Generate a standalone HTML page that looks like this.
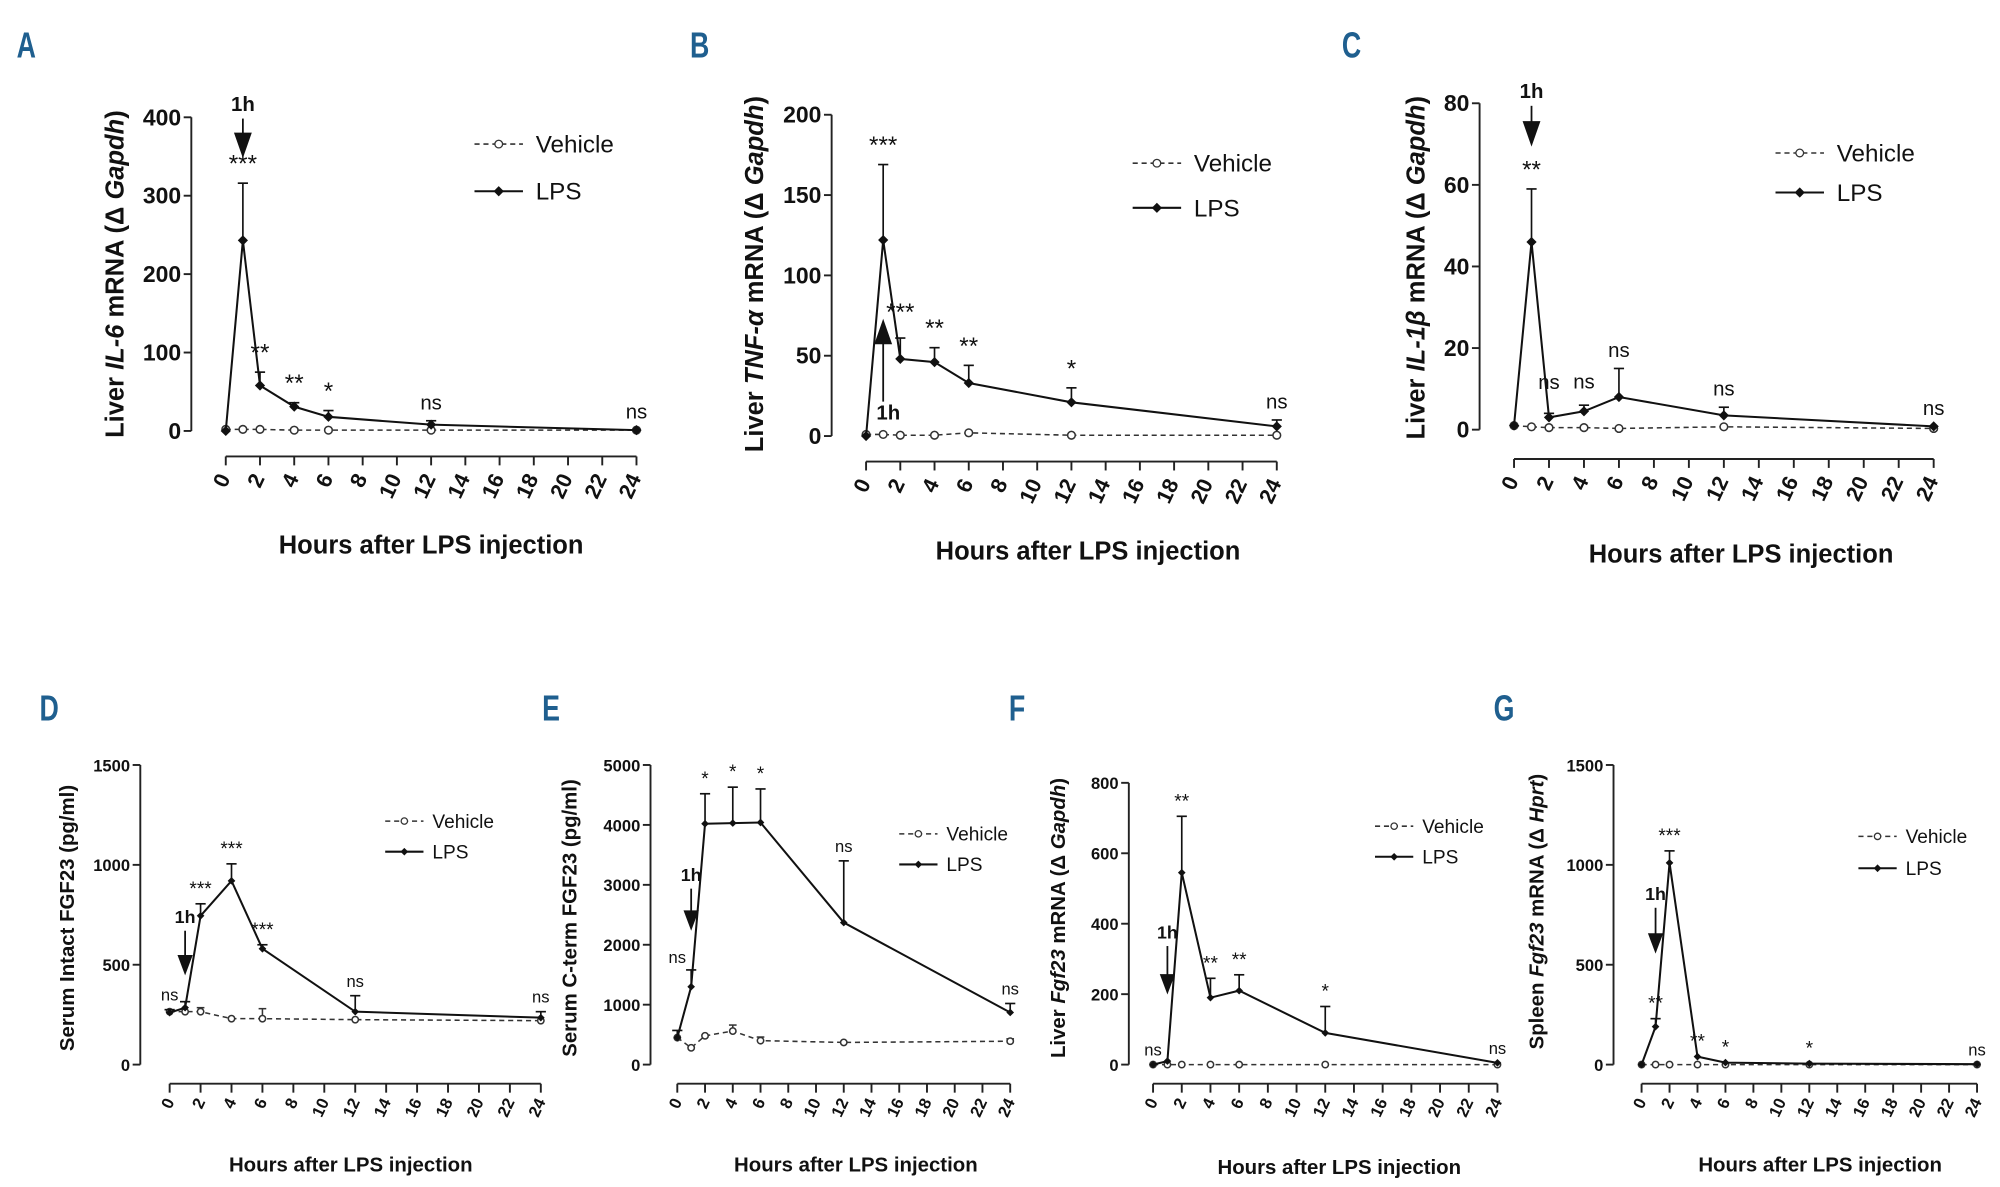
<!DOCTYPE html>
<html><head><meta charset="utf-8"><style>
html,body{margin:0;padding:0;background:#fff;}
svg{display:block;}
text{font-family:"Liberation Sans",sans-serif;fill:#111;}
</style></head><body>
<svg id="fig" width="2000" height="1187" viewBox="0 0 1568 931" preserveAspectRatio="none" xmlns="http://www.w3.org/2000/svg"></svg>
<script>
const hours=[0,1,2,4,6,12,24];
const xTicks=[0,2,4,6,8,10,12,14,16,18,20,22,24];
// Panel A
const aLps=[0,243,58,31,18,8,1];
const aLpsErr=[0,73,17,5,8,5,0];
const aVeh=[2,2,2,1,1,1,1];
const aYTicks=[0,100,200,300,400];
const aAnnX=[1,2,4,6,12,24];
const aAnn=["***","**","**","*","ns","ns"];
// Panel B
const bLps=[0,122,48,46,33,21,6];
const bLpsErr=[0,47,13,9,11,9,4];
const bVeh=[1,1,0.5,0.5,2,0.5,0.5];
const bYTicks=[0,50,100,150,200];
const bAnnX=[1,2,4,6,12,24];
const bAnn=["***","***","**","**","*","ns"];
// Panel C
const cLps=[1,46,3,4.5,8,3.5,0.8];
const cLpsErr=[0,13,1,1.5,7,2,0];
const cVeh=[1,0.7,0.5,0.5,0.3,0.7,0.3];
const cYTicks=[0,20,40,60,80];
const cAnnX=[1,2,4,6,12,24];
const cAnn=["**","ns","ns","ns","ns","ns"];
// Panel D
const dLps=[260,285,745,920,580,265,235];
const dLpsErr=[15,30,60,85,20,80,30];
const dVeh=[265,265,265,230,230,225,220];
const dVehErr=[0,0,20,0,50,0,0];
const dYTicks=[0,500,1000,1500];
const dAnnX=[0,2,4,6,12,24];
const dAnn=["ns","***","***","***","ns","ns"];
// Panel E
const eLps=[450,1300,4020,4030,4040,2370,870];
const eLpsErr=[120,280,500,600,560,1030,150];
const eVeh=[450,280,480,560,400,370,390];
const eVehErr=[0,0,0,100,60,0,40];
const eYTicks=[0,1000,2000,3000,4000,5000];
const eAnnX=[0,2,4,6,12,24];
const eAnn=["ns","*","*","*","ns","ns"];
// Panel F
const fLps=[0,10,545,190,210,90,5];
const fLpsErr=[0,0,160,55,45,75,0];
const fVeh=[0,0,0,0,0,0,0];
const fYTicks=[0,200,400,600,800];
const fAnnX=[0,2,4,6,12,24];
const fAnn=["ns","**","**","**","*","ns"];
// Panel G
const gLps=[0,190,1010,40,10,5,2];
const gLpsErr=[0,40,60,0,0,0,0];
const gVeh=[0,0,0,0,0,0,0];
const gYTicks=[0,500,1000,1500];
const gAnnX=[1,2,4,6,12,24];
const gAnn=["**","***","**","*","*","ns"];

const NS="http://www.w3.org/2000/svg";
const svg=document.getElementById('fig');
function mk(tag,attrs,parent,txt){const e=document.createElementNS(NS,tag);for(const k in attrs)e.setAttribute(k,attrs[k]);if(txt!==undefined)e.textContent=txt;(parent||svg).appendChild(e);return e;}

function panel(p){
  const g=mk('g',{});
  
  
  const ymax=p.yTicks[p.yTicks.length-1];
  const X=v=>p.x0+(p.x1-p.x0)*v/24;
  const Y=v=>p.y0+(p.yTop-p.y0)*v/ymax;
  const s=p.small?1:1.25;
  const L=mk('text',{x:p.lx,y:p.ly,'font-size':28,'font-weight':'bold',style:'fill:#1f5f8f',transform:`translate(${p.lx},${p.ly}) scale(0.75,1) translate(${-p.lx},${-p.ly})`},g,p.id);
  
  
  const ya=mk('line',{x1:p.ax,y1:Y(0),x2:p.ax,y2:Y(ymax),stroke:'#222','stroke-width':1.5},g);
  
  
  p.yTicks.forEach(t=>{
    mk('line',{x1:p.ax-6,y1:Y(t),x2:p.ax,y2:Y(t),stroke:'#222','stroke-width':1.5},g);
    const tl=mk('text',{x:p.ax-8,y:Y(t)+5*s,'text-anchor':'end','font-size':p.small?13:18,'font-weight':'bold'},g,t);
    
    
  });
  const xa=mk('line',{x1:X(0),y1:p.xy,x2:X(24),y2:p.xy,stroke:'#222','stroke-width':1.5},g);
  
  
  xTicks.forEach(t=>{
    mk('line',{x1:X(t),y1:p.xy,x2:X(t),y2:p.xy+7,stroke:'#222','stroke-width':1.5},g);
    const ty=p.xy+(p.small?14:17);
    const tl=mk('text',{x:X(t)+4,y:ty,'text-anchor':'end','font-size':p.small?13:17,'font-weight':'bold',transform:`rotate(-65 ${X(t)+4} ${ty})`},g,t);
    
    
  });
  const xt=mk('text',{x:p.xtx,y:p.xty,'text-anchor':'middle','font-size':p.small?16:20,'font-weight':'bold'},g,'Hours after LPS injection');
  
  
  const yt=mk('text',{x:p.ytx,y:p.yty,'text-anchor':'middle','font-size':p.small?16:20,'font-weight':'bold',transform:`rotate(-90 ${p.ytx} ${p.yty})`},g);
  
  
  p.ytitle.forEach(([t,it])=>{const ts=mk('tspan',{},yt,t);if(it)ts.setAttribute('font-style','italic');});
  const vp=hours.map((h,i)=>X(h)+','+Y(p.veh[i])).join(' ');
  const vl=mk('polyline',{points:vp,fill:'none',stroke:'#333','stroke-width':1.2,'stroke-dasharray':'4,3'},g);
  
  
  hours.forEach((h,i)=>{
    if(p.vehErr&&p.vehErr[i]>0){
      mk('line',{x1:X(h),y1:Y(p.veh[i]),x2:X(h),y2:Y(p.veh[i]+p.vehErr[i]),stroke:'#333','stroke-width':1.2},g);
      mk('line',{x1:X(h)-3,y1:Y(p.veh[i]+p.vehErr[i]),x2:X(h)+3,y2:Y(p.veh[i]+p.vehErr[i]),stroke:'#333','stroke-width':1.2},g);
    }
    const c=mk('circle',{cx:X(h),cy:Y(p.veh[i]),r:p.small?2.5:3,fill:'#fff',stroke:'#333','stroke-width':1.2},g);
    
    
  });
  const lp=hours.map((h,i)=>X(h)+','+Y(p.lps[i])).join(' ');
  const ll=mk('polyline',{points:lp,fill:'none',stroke:'#111','stroke-width':1.6},g);
  
  
  hours.forEach((h,i)=>{
    if(p.lpsErr[i]>0){
      const top=Y(p.lps[i]+p.lpsErr[i]);
      mk('line',{x1:X(h),y1:Y(p.lps[i]),x2:X(h),y2:top,stroke:'#111','stroke-width':1.3},g);
      mk('line',{x1:X(h)-4,y1:top,x2:X(h)+4,y2:top,stroke:'#111','stroke-width':1.3},g);
    }
    const r=p.small?3:4;
    const d=mk('polygon',{points:`${X(h)},${Y(p.lps[i])-r} ${X(h)+r},${Y(p.lps[i])} ${X(h)},${Y(p.lps[i])+r} ${X(h)-r},${Y(p.lps[i])}`,fill:'#111'},g);
    
    
  });
  p.annX.forEach((h,k)=>{
    const i=hours.indexOf(h);
    const top=Math.min(Y(p.lps[i]+p.lpsErr[i]),Y(p.veh[i]));
    const off=(p.annOff&&p.annOff[k])||0;
    const a=mk('text',{x:X(h),y:top-(p.small?7:9)+off,'text-anchor':'middle','font-size':p.ann[k]==='ns'?(p.small?13:16):(p.small?15:19)},g,p.ann[k]);
    
    
  });
  const ax=X(1);
  const ar=mk('g',{},g);
  
  
  if(p.arrowUp){
    mk('line',{x1:ax,y1:p.arB,x2:ax,y2:p.arA+10,stroke:'#111','stroke-width':1.4},ar);
    mk('polygon',{points:`${ax-7},${p.arA+20} ${ax+7},${p.arA+20} ${ax},${p.arA}`,fill:'#111'},ar);
    mk('text',{x:ax+4,y:p.arB+14,'text-anchor':'middle','font-size':16,'font-weight':'bold'},ar,'1h');
  } else {
    const hw=p.small?6:7, hh=p.small?16:20;
    mk('text',{x:ax,y:p.arA-6,'text-anchor':'middle','font-size':p.small?14:16,'font-weight':'bold'},ar,'1h');
    mk('line',{x1:ax,y1:p.arA,x2:ax,y2:p.arB-hh+2,stroke:'#111','stroke-width':1.4},ar);
    mk('polygon',{points:`${ax-hw},${p.arB-hh} ${ax+hw},${p.arB-hh} ${ax},${p.arB}`,fill:'#111'},ar);
  }
  const lg=mk('g',{},g);
  
  
  const lw=p.small?30:38, fs=p.small?15:19;
  const e1=mk('g',{},lg);
  
  
  mk('line',{x1:p.lgx,y1:p.lgy1,x2:p.lgx+lw,y2:p.lgy1,stroke:'#333','stroke-width':1.2,'stroke-dasharray':'4,3'},e1);
  mk('circle',{cx:p.lgx+lw/2,cy:p.lgy1,r:p.small?2.5:3,fill:'#fff',stroke:'#333'},e1);
  mk('text',{x:p.lgx+lw+(p.small?7:10),y:p.lgy1+fs*0.35,'font-size':fs},e1,'Vehicle');
  const e2=mk('g',{},lg);
  
  
  mk('line',{x1:p.lgx,y1:p.lgy2,x2:p.lgx+lw,y2:p.lgy2,stroke:'#111','stroke-width':1.6},e2);
  const r=p.small?3:4,cx=p.lgx+lw/2,cy=p.lgy2;
  mk('polygon',{points:`${cx},${cy-r} ${cx+r},${cy} ${cx},${cy+r} ${cx-r},${cy}`,fill:'#111'},e2);
  mk('text',{x:p.lgx+lw+(p.small?7:10),y:p.lgy2+fs*0.35,'font-size':fs},e2,'LPS');
}

panel({id:'A',lx:13,ly:45,x0:177,x1:499,y0:338,yTop:92,ax:150,xy:358,yTicks:aYTicks,lps:aLps,lpsErr:aLpsErr,veh:aVeh,annX:aAnnX,ann:aAnn,
  xtx:338,xty:434,ytx:97,yty:215,ytitle:[['Liver '],['IL-6',1],[' mRNA (Δ '],['Gapdh',1],[')']],arA:93,arB:124,lgx:372,lgy1:113,lgy2:150});
panel({id:'B',lx:541,ly:45,x0:679,x1:1001,y0:342,yTop:90,ax:652,xy:362,yTicks:bYTicks,lps:bLps,lpsErr:bLpsErr,veh:bVeh,annX:bAnnX,ann:bAnn,annOff:[0,-5,0,0,0,0],
  xtx:853,xty:439,ytx:598,yty:215,ytitle:[['Liver '],['TNF-α',1],[' mRNA (Δ '],['Gapdh',1],[')']],arrowUp:true,arA:250,arB:315,lgx:888,lgy1:128,lgy2:163});
panel({id:'C',lx:1052,ly:45,x0:1187,x1:1516,y0:337,yTop:81,ax:1160,xy:360,yTicks:cYTicks,lps:cLps,lpsErr:cLpsErr,veh:cVeh,annX:cAnnX,ann:cAnn,annOff:[0,-10,-4,0,0,0],
  xtx:1365,xty:441,ytx:1117,yty:210,ytitle:[['Liver '],['IL-1β',1],[' mRNA (Δ '],['Gapdh',1],[')']],arA:83,arB:115,lgx:1392,lgy1:120,lgy2:151});
panel({id:'D',small:true,lx:31,ly:565,x0:133,x1:424,y0:835,yTop:600,ax:110,xy:850,yTicks:dYTicks,lps:dLps,lpsErr:dLpsErr,veh:dVeh,vehErr:dVehErr,annX:dAnnX,ann:dAnn,
  xtx:275,xty:919,ytx:58,yty:720,ytitle:[['Serum Intact FGF23 (pg/ml)']],arA:730,arB:765,lgx:302,lgy1:644,lgy2:668});
panel({id:'E',small:true,lx:425,ly:565,x0:531,x1:792,y0:835,yTop:600,ax:510,xy:850,yTicks:eYTicks,lps:eLps,lpsErr:eLpsErr,veh:eVeh,vehErr:eVehErr,annX:eAnnX,ann:eAnn,annOff:[-46,0,0,0,0,0],
  xtx:671,xty:919,ytx:452,yty:720,ytitle:[['Serum C-term FGF23 (pg/ml)']],arA:697,arB:730,lgx:705,lgy1:654,lgy2:678});
panel({id:'F',small:true,lx:791,ly:565,x0:904,x1:1174,y0:835,yTop:614,ax:885,xy:850,yTicks:fYTicks,lps:fLps,lpsErr:fLpsErr,veh:fVeh,annX:fAnnX,ann:fAnn,
  xtx:1050,xty:921,ytx:835,yty:720,ytitle:[['Liver '],['Fgf23',1],[' mRNA (Δ '],['Gapdh',1],[')']],arA:742,arB:780,lgx:1078,lgy1:648,lgy2:672});
panel({id:'G',small:true,lx:1171,ly:565,x0:1287,x1:1550,y0:835,yTop:600,ax:1265,xy:850,yTicks:gYTicks,lps:gLps,lpsErr:gLpsErr,veh:gVeh,annX:gAnnX,ann:gAnn,
  xtx:1427,xty:919,ytx:1210,yty:715,ytitle:[['Spleen '],['Fgf23',1],[' mRNA (Δ '],['Hprt',1],[')']],arA:712,arB:748,lgx:1457,lgy1:656,lgy2:681});
</script>
</body></html>
